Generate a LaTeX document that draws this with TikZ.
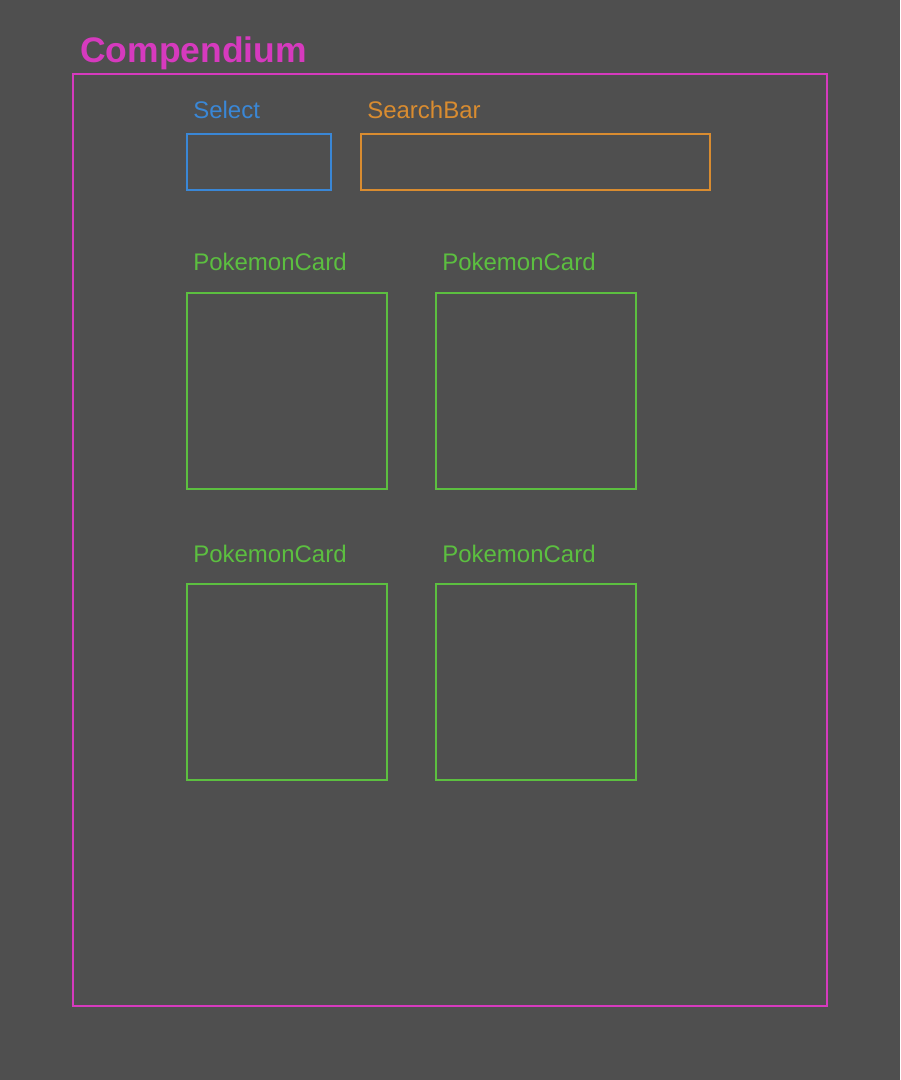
\documentclass[tikz,border=0pt]{standalone}
\usepackage{fontspec}
\setmainfont{Liberation Sans}
\definecolor{bg}{HTML}{4F4F4F}
\definecolor{pinkc}{HTML}{D63ABE}
\definecolor{bluec}{HTML}{3A87D6}
\definecolor{orangec}{HTML}{D98C30}
\definecolor{greenc}{HTML}{5CBF40}
\tikzset{
  box/.style={draw, line width=1.9pt, anchor=north west, inner sep=0pt, outer sep=0pt},
  lbl/.style={anchor=base west, inner sep=0pt, font=\fontsize{18}{20}\selectfont},
}
\begin{document}
\begin{tikzpicture}[x=0.75pt, y=-0.75pt]
\fill[bg] (0,0) rectangle (900,1080);
\useasboundingbox (0,0) rectangle (900,1080);
% Compendium
\node[box, draw=pinkc, minimum width=565.5pt, minimum height=699pt] (comp) at (73,74) {};
\node[anchor=base west, inner sep=0pt, text=pinkc, font=\bfseries\fontsize{26.6}{30}\selectfont] (comptitle) at (80,63) {Compendium};
% Select
\node[box, draw=bluec, minimum width=108pt, minimum height=42pt] (select) at (187,134) {};
\node[lbl, text=bluec] (selectlbl) at (193,119) {Select};
% SearchBar
\node[box, draw=orangec, minimum width=261.75pt, minimum height=42pt] (search) at (361,134) {};
\node[lbl, text=orangec] (searchlbl) at (367,119) {SearchBar};
% Cards
\node[box, draw=greenc, minimum width=150pt, minimum height=147pt] (card1) at (187,293) {};
\node[lbl, text=greenc] (card1lbl) at (193,271) {PokemonCard};
\node[box, draw=greenc, minimum width=150pt, minimum height=147pt] (card2) at (436,293) {};
\node[lbl, text=greenc] (card2lbl) at (442,271) {PokemonCard};
\node[box, draw=greenc, minimum width=150pt, minimum height=147pt] (card3) at (187,584) {};
\node[lbl, text=greenc] (card3lbl) at (193,562) {PokemonCard};
\node[box, draw=greenc, minimum width=150pt, minimum height=147pt] (card4) at (436,584) {};
\node[lbl, text=greenc] (card4lbl) at (442,562) {PokemonCard};
\end{tikzpicture}
\end{document}
